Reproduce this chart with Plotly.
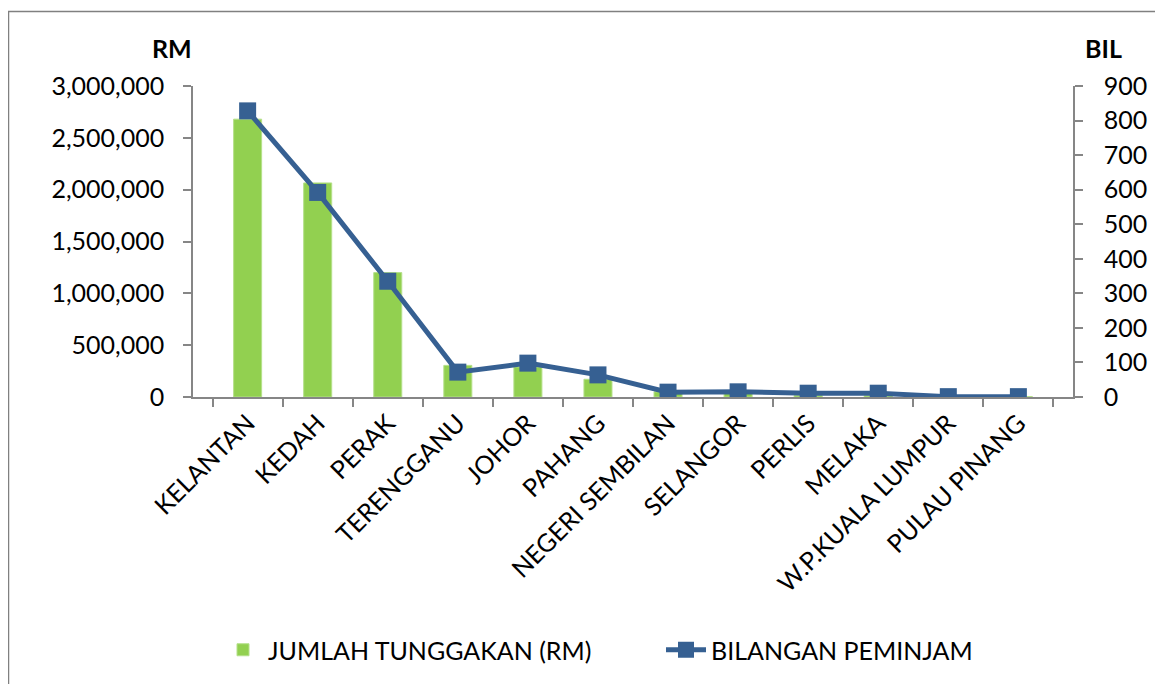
import plotly.graph_objects as go

states = ["KELANTAN", "KEDAH", "PERAK", "TERENGGANU", "JOHOR", "PAHANG",
          "NEGERI SEMBILAN", "SELANGOR", "PERLIS", "MELAKA",
          "W.P.KUALA LUMPUR", "PULAU PINANG"]
jumlah_rm = [2680000, 2065000, 1200000, 305000, 290000, 171000,
             50000, 40000, 15000, 12000, 5000, 3000]
bilangan = [828, 592, 335, 72, 98, 64, 14, 15, 11, 11, 1, 1]

FONT = "Lato"
GREEN = "#92D050"
BLUE = "#366092"
AXIS = "#868686"

OFF = 8  # page body margin
W, H = 1163 - OFF, 684 - OFF
# plot area in page pixels
L, R, T, B = 193, 1073, 86, 397
pw, ph = R - L, B - T

def px(x):
    return (x - L) / pw

def py(y):
    return (B - y) / ph

fig = go.Figure()
fig.add_trace(go.Bar(
    x=states, y=jumlah_rm, name="JUMLAH TUNGGAKAN (RM)",
    marker=dict(color=GREEN, line=dict(color="#B5E08A", width=1)),
    yaxis="y", legend="legend",
))
fig.add_trace(go.Scatter(
    x=states, y=bilangan, name="BILANGAN PEMINJAM", mode="lines+markers",
    line=dict(color=BLUE, width=5),
    marker=dict(symbol="square", size=17, color=BLUE),
    yaxis="y2", legend="legend2",
))

leg_common = dict(font=dict(family=FONT, size=25, color="#000000"),
                  xanchor="left", yanchor="middle", bgcolor="rgba(0,0,0,0)",
                  itemwidth=40)

fig.update_layout(
    width=W, height=H,
    margin=dict(l=L - OFF, r=W - (R - OFF), t=T - OFF, b=H - (B - OFF),
                pad=0, autoexpand=False),
    paper_bgcolor="white", plot_bgcolor="white",
    font=dict(family=FONT, size=25, color="#000000"),
    bargap=0.6,
    showlegend=True,
    legend=dict(x=px(218), y=py(650), **leg_common),
    legend2=dict(x=px(661), y=py(650), **leg_common),
    xaxis=dict(
        type="category", showline=True, linecolor=AXIS, linewidth=1.5,
        ticks="outside", tickson="boundaries", ticklen=8, tickcolor=AXIS, tickwidth=1.5,
        tickangle=-45, showgrid=False, zeroline=False, automargin=False,
        tickfont=dict(family=FONT, size=25),
    ),
    yaxis=dict(
        range=[0, 3000000], dtick=500000, tickformat=",", showline=True,
        linecolor=AXIS, linewidth=1.5, ticks="outside", ticklen=8, tickcolor=AXIS,
        tickwidth=1.5, showgrid=False, zeroline=False, ticklabelstandoff=14,
        automargin=False, tickfont=dict(family=FONT, size=25),
    ),
    yaxis2=dict(
        range=[0, 900], dtick=100, overlaying="y", side="right", showline=True,
        linecolor=AXIS, linewidth=1.5, ticks="outside", ticklen=8, tickcolor=AXIS,
        tickwidth=1.5, showgrid=False, zeroline=False, ticklabelstandoff=16,
        automargin=False, tickfont=dict(family=FONT, size=25),
    ),
    annotations=[
        dict(text="<b>RM</b>", x=px(172), y=py(48), xref="paper", yref="paper",
             showarrow=False, xanchor="center", yanchor="middle",
             font=dict(family=FONT, size=25)),
        dict(text="<b>BIL</b>", x=px(1103), y=py(48), xref="paper", yref="paper",
             showarrow=False, xanchor="center", yanchor="middle",
             font=dict(family=FONT, size=25)),
    ],
    shapes=[
        dict(type="rect", xref="paper", yref="paper",
             x0=px(8.5), x1=px(1200), y0=py(11.5), y1=py(720),
             line=dict(color="#808080", width=1.5), layer="below"),
    ],
)

fig.write_html(
    "out.html",
    post_script="document.documentElement.style.overflow='hidden';"
                "document.body.style.overflow='hidden';",
)
